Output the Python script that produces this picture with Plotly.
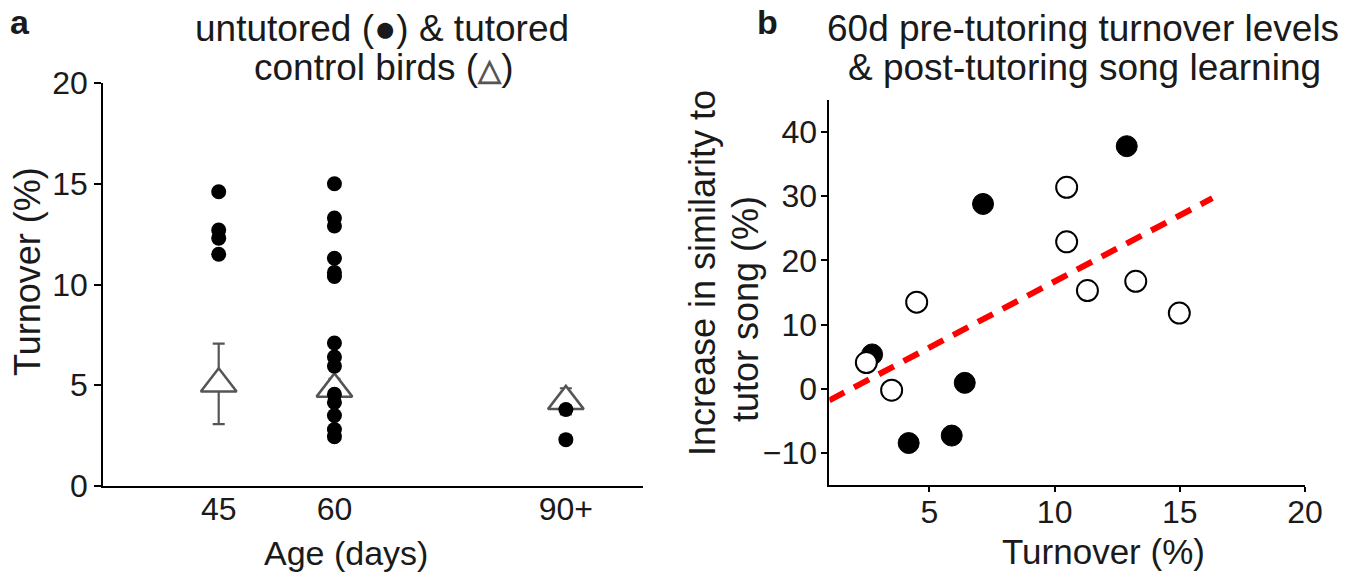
import numpy as np
import plotly.graph_objects as go

# ---------------- data: panel a ----------------
age_tickvals = [45, 60, 90]
age_ticktext = ["45", "60", "90+"]
untutored_45 = [14.6, 12.7, 12.3, 11.5]
untutored_60 = [15.0, 13.3, 12.9, 11.3, 10.6, 10.4, 7.1, 6.4, 5.95, 4.55, 4.15, 3.5, 2.8, 2.45]
untutored_90 = [3.8, 2.3]
tutored_age = [45, 60, 90]
tutored_mean = [5.07, 4.82, 4.2]
tutored_err = [2.0, 0.5, 0.65]
turnover_ticks = [0, 5, 10, 15, 20]

# ---------------- data: panel b ----------------
filled_x = [12.88, 7.14, 2.71, 6.41, 5.89, 4.17]
filled_y = [37.8, 28.8, 5.35, 0.92, -7.3, -8.46]
open_x = [10.48, 10.48, 11.31, 13.24, 14.98, 4.49, 2.48, 3.49]
open_y = [31.4, 22.9, 15.3, 16.75, 11.8, 13.5, 4.09, -0.23]
fit_span = [1.0, 16.3]
b_xticks = [5, 10, 15, 20]
b_yticks = [-10, 0, 10, 20, 30, 40]

W, H = 1358, 579
FONT = "Liberation Sans, Arial, sans-serif"
TXT = "#1a1a1a"
GREY = "#555555"


def px(x):
    return x / W


def py(y):
    return 1 - y / H


fig = go.Figure()

# panel a: tutored controls (triangles with SEM) drawn first
fig.add_trace(go.Scatter(
    x=tutored_age, y=tutored_mean, mode="markers",
    marker=dict(symbol="triangle-up", size=31, color="white",
                line=dict(color=GREY, width=2.5)),
    error_y=dict(type="data", array=tutored_err, color=GREY, thickness=2.2, width=6),
    xaxis="x", yaxis="y", showlegend=False,
))
# untutored dots
ax = [45] * len(untutored_45) + [60] * len(untutored_60) + [90] * len(untutored_90)
ay = untutored_45 + untutored_60 + untutored_90
fig.add_trace(go.Scatter(
    x=ax, y=ay, mode="markers",
    marker=dict(symbol="circle", size=15, color="black", line=dict(width=0)),
    xaxis="x", yaxis="y", showlegend=False,
))

# panel b: regression line
all_x = np.array(filled_x + open_x)
all_y = np.array(filled_y + open_y)
slope, intercept = np.polyfit(all_x, all_y, 1)
lx = np.array(fit_span)
ly = slope * lx + intercept
fig.add_trace(go.Scatter(
    x=lx, y=ly, mode="lines",
    line=dict(color="#ff0000", width=6, dash="17px,11px"),
    xaxis="x2", yaxis="y2", showlegend=False,
))
fig.add_trace(go.Scatter(
    x=filled_x, y=filled_y, mode="markers",
    marker=dict(symbol="circle", size=21, color="black", line=dict(color="black", width=1)),
    xaxis="x2", yaxis="y2", showlegend=False,
))
fig.add_trace(go.Scatter(
    x=open_x, y=open_y, mode="markers",
    marker=dict(symbol="circle", size=21, color="white", line=dict(color="black", width=2)),
    xaxis="x2", yaxis="y2", showlegend=False,
))

axis_common = dict(showline=True, linecolor="black", linewidth=1.5, showgrid=False,
                   zeroline=False, automargin=False,
                   tickfont=dict(family=FONT, size=32, color=TXT),
                   tickcolor="black", tickwidth=1.5)

fig.update_layout(
    width=W, height=H,
    margin=dict(l=0, r=0, t=0, b=0, autoexpand=False),
    plot_bgcolor="white", paper_bgcolor="white",
    font=dict(family=FONT, color=TXT),
    xaxis=dict(domain=[px(103), px(643)], range=[30, 100], tickvals=age_tickvals,
               ticktext=age_ticktext, ticks="", ticklabelstandoff=-6, anchor="y",
               **axis_common),
    yaxis=dict(domain=[py(486), py(83)], range=[0, 20], tickvals=turnover_ticks,
               ticks="outside", ticklen=7, anchor="x", **axis_common),
    xaxis2=dict(domain=[px(829.3), px(1305)], range=[1, 20], tickvals=b_xticks,
                ticks="outside", ticklen=5, ticklabelstandoff=-7, anchor="y2",
                **axis_common),
    yaxis2=dict(domain=[py(485), py(100)], range=[-15, 45], tickvals=b_yticks,
                ticks="outside", ticklen=7, ticklabelstandoff=-3, anchor="x2",
                **axis_common),
)

ann = []


def label(text, x, y, size=36, angle=0, bold=False, color=TXT):
    t = f"<b>{text}</b>" if bold else text
    ann.append(dict(text=t, x=px(x), y=py(y), xref="paper", yref="paper",
                    xanchor="center", yanchor="middle", showarrow=False,
                    textangle=angle, font=dict(family=FONT, size=size, color=color)))


label("a", 20, 22, size=34, bold=True)
label("b", 767, 22, size=34, bold=True)
label("untutored (●) &amp; tutored", 382, 28, size=37)
label(f"control birds (<b><span style='color:{GREY};font-size:30px'>△</span></b>)",
      383, 67, size=37)
label("60d pre-tutoring turnover levels", 1083, 28, size=37)
label("&amp; post-tutoring song learning", 1084, 67, size=37)
label("Turnover (%)", 27, 272, angle=-90)
label("Age (days)", 346, 553, size=34)
label("Increase in similarity to", 702, 273, angle=-90)
label("tutor song (%)", 745, 309, angle=-90)
label("Turnover (%)", 1103, 551, size=35)
fig.update_layout(annotations=ann)

fig.write_html("out.html", config={"displayModeBar": False},
               post_script="document.body.style.margin='0px';")
